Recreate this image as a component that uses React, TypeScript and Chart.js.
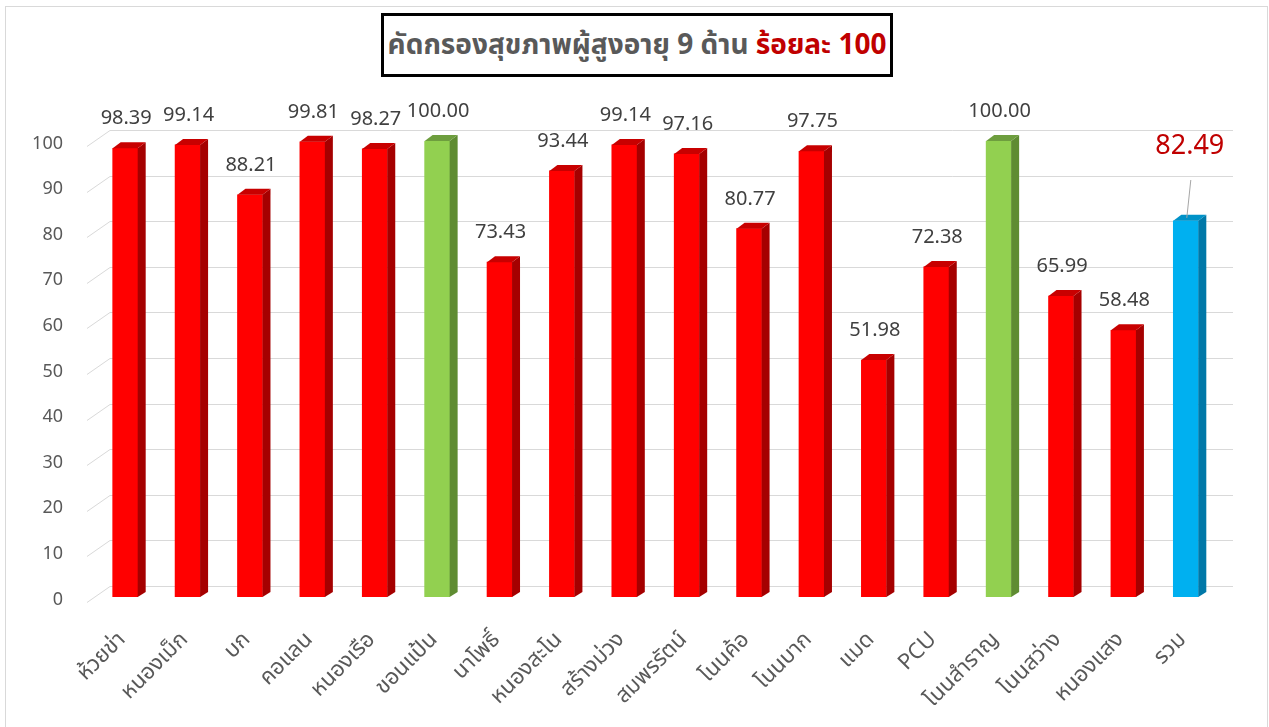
import React, { useEffect, useRef } from "react";
import { Chart, registerables } from "chart.js";

Chart.register(...registerables);

const categories: string[] = [
  "ห้วยข่า", "หนองเม็ก", "บก", "คอแลน", "หนองเรือ", "ขอนแป้น", "นาโพธิ์", "หนองสะโน", "สร้างม่วง",
  "สมพรรัตน์", "โนนค้อ", "โนนบาก", "แมด", "PCU", "โนนสำราญ", "โนนสว่าง", "หนองแสง", "รวม",
];
const values: number[] = [
  98.39, 99.14, 88.21, 99.81, 98.27, 100.0, 73.43, 93.44, 99.14,
  97.16, 80.77, 97.75, 51.98, 72.38, 100.0, 65.99, 58.48, 82.49,
];
const colorKeys: string[] = [
  "red", "red", "red", "red", "red", "green", "red", "red", "red",
  "red", "red", "red", "red", "red", "green", "red", "red", "blue",
];
const yTicks: number[] = [0, 10, 20, 30, 40, 50, 60, 70, 80, 90, 100];

const palette: Record<string, { front: string; side: string; top: string }> = {
  red: { front: "#FF0000", side: "#A50000", top: "#C80000" },
  green: { front: "#92D050", side: "#5F8C32", top: "#6E9E3E" },
  blue: { front: "#00B0F0", side: "#0078A8", top: "#0092C8" },
};

const FONT = 'Tahoma, "Leelawadee UI", "Noto Sans Thai", "Noto Sans", "DejaVu Sans", sans-serif';

const DX = 8;
const DY = -6;

const threeD = {
  id: "threeD",
  beforeDraw(chart: any) {
    const ctx = chart.ctx;
    ctx.save();
    ctx.fillStyle = "#FFFFFF";
    ctx.fillRect(0, 0, chart.width, chart.height);
    ctx.strokeStyle = "#D9D9D9";
    ctx.lineWidth = 1;
    ctx.strokeRect(5.5, 6.5, 1262, 740);
    ctx.restore();
  },
  beforeDatasetsDraw(chart: any) {
    const ctx = chart.ctx;
    const y = chart.scales.y;
    ctx.save();
    ctx.strokeStyle = "#D9D9D9";
    ctx.lineWidth = 1;
    yTicks.forEach((v) => {
      const p = y.getPixelForValue(v);
      const front = Math.round(p + 5) + 0.5;
      const back = Math.round(p - 11) + 0.5;
      ctx.beginPath();
      ctx.moveTo(87, front);
      ctx.lineTo(110, back);
      ctx.lineTo(1233, back);
      ctx.stroke();
    });
    ctx.restore();
  },
  afterDatasetsDraw(chart: any) {
    const ctx = chart.ctx;
    const meta = chart.getDatasetMeta(0);
    ctx.save();
    meta.data.forEach((bar: any, i: number) => {
      const { x, y, base, width } = bar.getProps(["x", "y", "base", "width"], true);
      const l = x - width / 2;
      const r = x + width / 2;
      const c = palette[colorKeys[i]];
      ctx.fillStyle = c.side;
      ctx.beginPath();
      ctx.moveTo(r, y);
      ctx.lineTo(r + DX, y + DY);
      ctx.lineTo(r + DX, base + DY + 1);
      ctx.lineTo(r, base);
      ctx.closePath();
      ctx.fill();
      ctx.fillStyle = c.top;
      ctx.beginPath();
      ctx.moveTo(l, y);
      ctx.lineTo(l + DX, y + DY);
      ctx.lineTo(r + DX, y + DY);
      ctx.lineTo(r, y);
      ctx.closePath();
      ctx.fill();
    });
    ctx.textAlign = "center";
    ctx.textBaseline = "middle";
    meta.data.forEach((bar: any, i: number) => {
      const { x, y } = bar.getProps(["x", "y"], true);
      const txt = values[i].toFixed(2);
      if (i === values.length - 1) {
        ctx.font = `27px ${FONT}`;
        ctx.fillStyle = "#C00000";
        ctx.fillText(txt, x + 4, 149);
        ctx.strokeStyle = "#A6A6A6";
        ctx.lineWidth = 1;
        ctx.beginPath();
        ctx.moveTo(x + 5, 180);
        ctx.lineTo(x + 1, y - 3);
        ctx.stroke();
      } else {
        ctx.font = `20px ${FONT}`;
        ctx.fillStyle = "#404040";
        ctx.fillText(txt, x + 1, y - 28);
      }
    });
    ctx.restore();
  },
};

export default function App() {
  const ref = useRef<HTMLCanvasElement | null>(null);
  useEffect(() => {
    if (!ref.current) return;
    const chart = new Chart(ref.current, {
      type: "bar",
      data: {
        labels: categories,
        datasets: [
          {
            data: values,
            backgroundColor: colorKeys.map((k) => palette[k].front),
            borderWidth: 0,
            barThickness: 25,
          },
        ],
      },
      options: {
        responsive: false,
        animation: false,
        devicePixelRatio: 1,
        layout: { padding: { left: 0, top: 141, right: 52, bottom: 0 } },
        plugins: {
          legend: { display: false },
          tooltip: { enabled: false },
          title: { display: false },
        },
        scales: {
          x: {
            grid: { display: false, drawTicks: false },
            border: { display: false },
            ticks: {
              autoSkip: false,
              maxRotation: 45,
              minRotation: 45,
              padding: 31,
              labelOffset: -2,
              color: "#595959",
              font: { family: FONT, size: 22 },
            },
            afterFit(scale: any) {
              scale.height = 130;
            },
          },
          y: {
            min: 0,
            max: 100,
            grid: { display: false, drawTicks: false },
            border: { display: false },
            ticks: {
              stepSize: 10,
              padding: 31,
              labelOffset: 4,
              color: "#595959",
              font: { family: FONT, size: 18 },
            },
            afterFit(scale: any) {
              scale.width = 94;
            },
          },
        },
      },
      plugins: [threeD],
    });
    return () => chart.destroy();
  }, []);

  return (
    <div style={{ position: "absolute", left: 0, top: 0, width: 1269, height: 727, background: "#fff" }}>
      <canvas ref={ref} width={1269} height={727} style={{ display: "block" }} />
      <div
        style={{
          position: "absolute",
          left: 381,
          top: 13,
          width: 506,
          height: 58,
          border: "3px solid #000",
          display: "flex",
          alignItems: "center",
          justifyContent: "center",
          fontFamily: FONT,
          fontWeight: "bold",
          fontSize: 28,
          whiteSpace: "nowrap",
          background: "#fff",
        }}
      >
        <span style={{ color: "#595959" }}>คัดกรองสุขภาพผู้สูงอายุ 9 ด้าน&nbsp;</span>
        <span style={{ color: "#C00000" }}>ร้อยละ 100</span>
      </div>
    </div>
  );
}
